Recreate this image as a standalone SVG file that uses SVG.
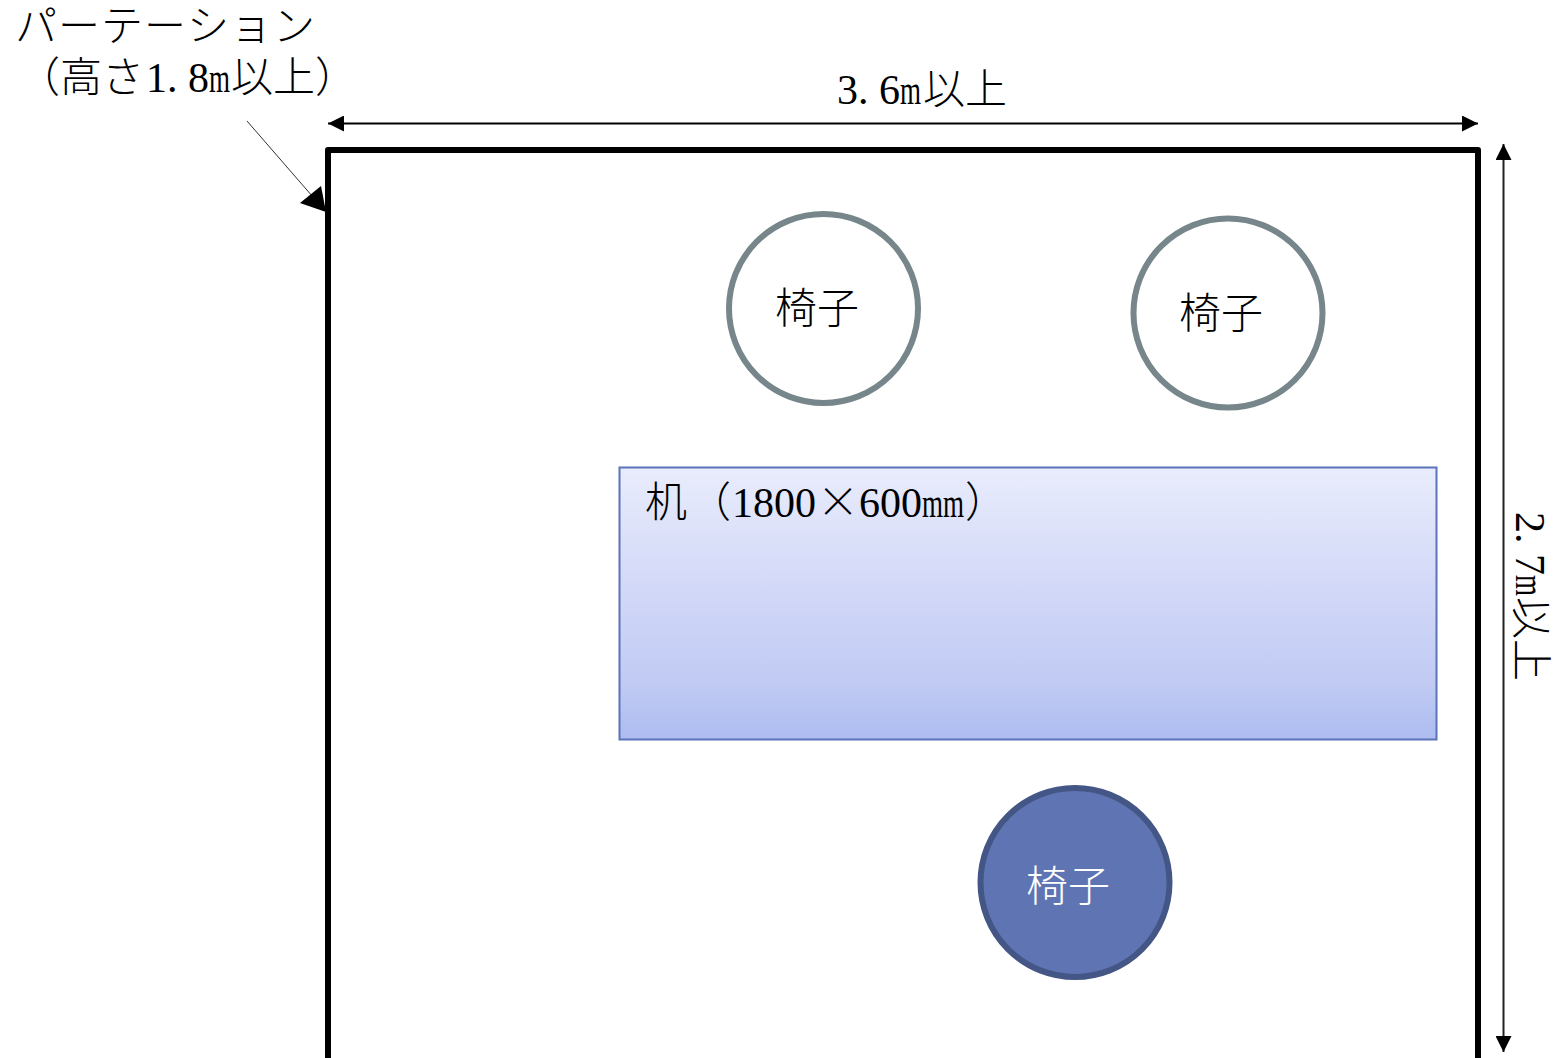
<svg xmlns="http://www.w3.org/2000/svg" width="1557" height="1058" viewBox="0 0 1557 1058">
<defs>
<linearGradient id="desk" x1="0" y1="0" x2="0" y2="1"><stop offset="0" stop-color="#e9ecfc"/><stop offset="0.5" stop-color="#cfd6f7"/><stop offset="0.8" stop-color="#c0caf3"/><stop offset="1" stop-color="#adbcf0"/></linearGradient>
<marker id="ah" markerUnits="userSpaceOnUse" markerWidth="16" markerHeight="16" refX="16" refY="8" orient="auto-start-reverse"><path d="M0 0L16 8L0 16Z" fill="#000"/></marker>
</defs>
<style>
text{font-family:"Liberation Serif","Noto Sans CJK JP",serif;font-size:42px;font-weight:300;fill:#000}
.c{fill:#fff;stroke:#76868a;stroke-width:6}
.j{font-family:"Noto Sans CJK JP",sans-serif}
</style>
<rect width="1557" height="1058" fill="#fff"/>
<g id="partition"><path d="M328 1058V150H1478V1058" fill="none" stroke="#000" stroke-width="6" stroke-linejoin="round"/></g>
<g id="desk-node"><rect x="619.500" y="467.500" width="817" height="272" fill="url(#desk)" stroke="#5b73b8" stroke-width="2"/>
<text y="517"><tspan x="645">机</tspan><tspan x="689">（</tspan><tspan x="732">1</tspan><tspan x="753">8</tspan><tspan x="774">0</tspan><tspan x="795">0</tspan><tspan x="817" class="j">×</tspan><tspan x="859">6</tspan><tspan x="880">0</tspan><tspan x="901">0</tspan><tspan x="922" textLength="21" lengthAdjust="spacingAndGlyphs">m</tspan><tspan x="943" textLength="21" lengthAdjust="spacingAndGlyphs">m</tspan><tspan x="965">）</tspan></text></g>
<g id="chair1"><circle class="c" cx="823.500" cy="308.500" r="94.500"/><text x="775 817" y="323">椅子</text></g>
<g id="chair2"><circle class="c" cx="1228" cy="313" r="94.500"/><text x="1179 1221" y="328">椅子</text></g>
<g id="chair3"><circle cx="1075" cy="882.500" r="94.500" fill="#5f75b3" stroke="#445685" stroke-width="6"/><text x="1026 1068" y="901" style="fill:#fff">椅子</text></g>
<g id="connectors" fill="none" stroke="#000">
<path d="M328 123.500H1478" stroke-width="2" marker-start="url(#ah)" marker-end="url(#ah)"/>
<path d="M1503.500 144V1052" stroke-width="2" stroke="#222" marker-start="url(#ah)" marker-end="url(#ah)"/>
<path d="M247 121L326 212" stroke-width="1" stroke="#333"/>
<path d="M300 203L321 186L326 212Z" fill="#000" stroke="none"/>
</g>
<g id="labels">
<text x="15 58 101 144 187 230 273" y="41">パーテーション</text>
<text y="92"><tspan x="18">（</tspan><tspan x="60">高</tspan><tspan x="102">さ</tspan><tspan x="146">1</tspan><tspan x="167">.</tspan><tspan x="188">8</tspan><tspan x="209" textLength="21" lengthAdjust="spacingAndGlyphs">m</tspan><tspan x="231">以</tspan><tspan x="273">上</tspan><tspan x="315">）</tspan></text>
<text y="104"><tspan x="837">3</tspan><tspan x="858">.</tspan><tspan x="879">6</tspan><tspan x="900" textLength="21" lengthAdjust="spacingAndGlyphs">m</tspan><tspan x="923">以</tspan><tspan x="965">上</tspan></text>
<text transform="translate(1516 512) rotate(90)"><tspan x="0">2</tspan><tspan x="21">.</tspan><tspan x="42">7</tspan><tspan x="63" textLength="21" lengthAdjust="spacingAndGlyphs">m</tspan><tspan x="85">以</tspan><tspan x="127">上</tspan></text>
</g>
</svg>
